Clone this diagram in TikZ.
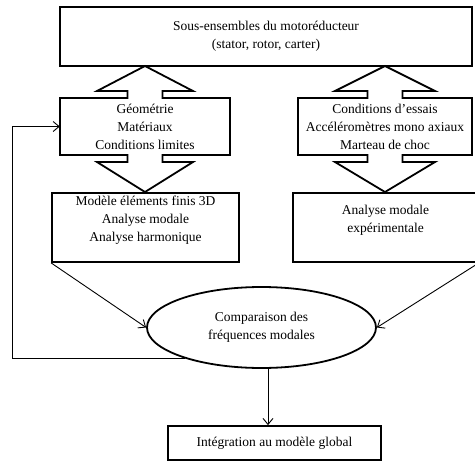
\documentclass[tikz,border=0pt]{standalone}
\usepackage{fontspec}
\setmainfont{Liberation Serif}
\usetikzlibrary{shapes.geometric,arrows.meta}

\begin{document}
\begin{tikzpicture}[x=1pt,y=-1pt,
    box/.style={draw, line width=1.8pt, inner sep=0pt, align=center, font=\fontsize{13.5}{18}\selectfont},
    txt/.style={inner sep=0pt, align=center, font=\fontsize{13.5}{18}\selectfont},
    callout/.style={draw, line width=1.8pt, line join=miter},
    link/.style={->, line width=0.9pt},
    >={Straight Barb[length=6pt,width=10pt]}]
  \useasboundingbox (0,0) rectangle (475,461);

  % Nodes
  \node[box, minimum width=412, minimum height=59] (top) at (266,36.5) {Sous-ensembles du motoréducteur\\(stator, rotor, carter)};
  \node[txt, minimum width=170, minimum height=57] (geo) at (145,126.5) {Géométrie\\Matériaux\\Conditions limites};
  \node[txt, minimum width=174, minimum height=57] (essais) at (385,126.5) {Conditions d’essais\\Accéléromètres mono axiaux\\Marteau de choc};
  \node[box, minimum width=187, minimum height=69, text depth=18pt] (fem) at (145.5,227.5) {Modèle éléments finis 3D\\Analyse modale\\Analyse harmonique};
  \node[box, minimum width=185, minimum height=69, text depth=18pt] (ama) at (385.5,227.5) {Analyse modale\\expérimentale};
  \node[ellipse, draw, line width=1.8pt, minimum width=229, minimum height=81, inner sep=0pt, align=center, font=\fontsize{13.5}{18}\selectfont] (comp) at (261.5,327.5) {Comparaison des\\fréquences modales};
  \node[box, minimum width=213, minimum height=34] (integ) at (274.5,443) {Intégration au modèle global};

  % Up-down arrows round the middle boxes
  \draw[callout] (60,98) -- (127.5,98) -- (127.5,91) -- (97,91) -- (145,66) -- (193,91) -- (162.5,91) -- (162.5,98) -- (230,98)
    -- (230,155) -- (162.5,155) -- (162.5,162) -- (193,162) -- (145,192) -- (97,162) -- (127.5,162) -- (127.5,155) -- (60,155) -- cycle;
  \draw[callout] (298,98) -- (367.5,98) -- (367.5,91) -- (335,91) -- (385,66) -- (435,91) -- (402.5,91) -- (402.5,98) -- (472,98)
    -- (472,155) -- (402.5,155) -- (402.5,162) -- (435,162) -- (385,192) -- (335,162) -- (367.5,162) -- (367.5,155) -- (298,155) -- cycle;

  % Edges
  \draw[link] (fem.south west) -- (comp.west);
  \draw[link] (ama.south east) -- (comp.east);
  \draw[link] ([xshift=6.5]comp.south) -- ([xshift=6.5]comp.south |- integ.north);

  % Loop back
  \coordinate (back) at (12,126.5);
  \draw[link] (comp.202) -| (back) -- (geo.west);
\end{tikzpicture}
\end{document}
